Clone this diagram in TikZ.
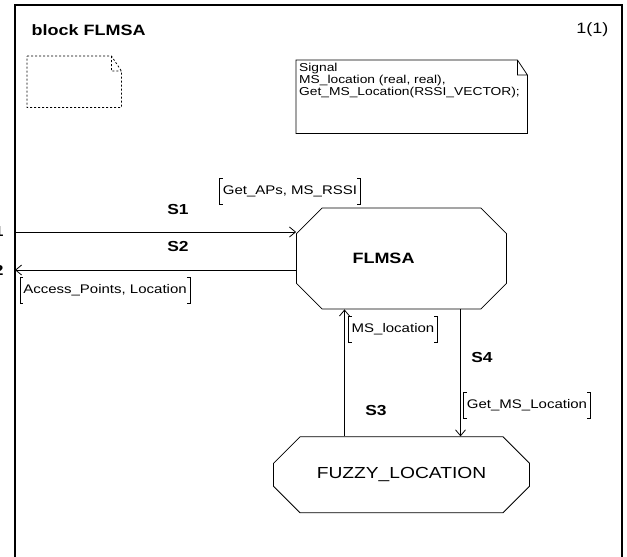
\documentclass[tikz,border=0pt]{standalone}
\usepackage{fontspec}
\setmainfont{Liberation Sans}[FakeStretch=1.2]
\usetikzlibrary{arrows.meta,positioning,shapes.misc}
\newcommand{\siglist}[3]{%
  \node[siglist] (#1) at (#2) {#3};
  \draw[brk] ([xshift=3pt]#1.north west) -| (#1.south west) -- ++(3pt,0)
    ([xshift=-3pt]#1.north east) -| (#1.south east) -- ++(-3pt,0);}
\newcommand{\dognote}[2]{%
  \draw[#2] (#1.north west) -- ([xshift=-10pt]#1.north east) -- ([yshift=-15pt]#1.north east)
    -- (#1.south east) -- (#1.south west) -- cycle
    ([xshift=-10pt]#1.north east) -- ([xshift=-10pt,yshift=-15pt]#1.north east) -- ([yshift=-15pt]#1.north east);}
\tikzset{
  frame/.style={line width=1.3pt},
  sig/.style={-{Straight Barb[length=6pt,width=10pt]}, line width=0.8pt},
  brk/.style={line width=0.6pt},
  blockbox/.style={chamfered rectangle, draw, line width=0.8pt,
    font=\fontsize{15}{17}\selectfont\bfseries},
  chan/.style={font=\fontsize{14.5}{16}\selectfont\bfseries},
  siglist/.style={font=\fontsize{12.5}{14}\selectfont, inner xsep=3pt, inner ysep=0pt, minimum height=26pt},
  emptynote/.style={inner sep=0pt, anchor=north west},
}
\begin{document}
\begin{tikzpicture}[x=1pt,y=-1pt]
\useasboundingbox (0,0) rectangle (627,557);
% block frame
\draw[frame] (15,557) -- (15,5) -- (622,5) -- (622,557);
\node[chan, anchor=base west, font=\fontsize{15}{17}\selectfont\bfseries] (title) at (28,35) {block FLMSA};
\node[anchor=base east, font=\fontsize{15}{17}\selectfont] (page) at (612,33) {1(1)};

% text symbols
\node[emptynote, minimum width=94pt, minimum height=51pt] (textarea) at (27,56) {};
\dognote{textarea}{line width=0.8pt, dash pattern=on 2pt off 2pt}
\node[emptynote, minimum width=231pt, minimum height=73pt] (sigs) at (296,60) {};
\dognote{sigs}{line width=0.8pt}
\node[align=left, inner sep=0pt, font=\fontsize{11.5}{12}\selectfont,
  below right=3pt and 3pt of sigs.north west] (sigtext)
  {Signal\\MS\_location (real, real),\\Get\_MS\_Location(RSSI\_VECTOR);};

% blocks
\node[blockbox, chamfered rectangle xsep=17pt, chamfered rectangle ysep=17pt,
  minimum width=210pt, minimum height=101pt] (flmsa) at (401.5,258.5) {FLMSA\hspace*{36pt}};
\node[blockbox, chamfered rectangle xsep=20pt, chamfered rectangle ysep=16pt,
  minimum width=256pt, minimum height=76pt, font=\fontsize{16}{18}\selectfont]
  (fuzzy) [below=127pt of flmsa] {FUZZY\_LOCATION};

% channels
\coordinate (env1) at (15,232);
\coordinate (env2) at (15,270);
\node[chan, anchor=east] (gate1) at (7,232) {1};
\node[chan, anchor=east] (gate2) at (7,270) {2};
\draw[sig] (env1) -- (env1 -| flmsa.west);
\draw[sig] (env2 -| flmsa.west) -- (env2);
\draw[sig] ([xshift=-57pt]fuzzy.north) -- ([xshift=-57pt]fuzzy.north |- flmsa.south);
\draw[sig] ([xshift=59pt]fuzzy.north |- flmsa.south) -- ([xshift=59pt]fuzzy.north);

\node[chan] (s1) at (178,209.5) {S1};
\node[chan] (s2) at (178,247) {S2};
\node[chan] (s3) at (376,411) {S3};
\node[chan] (s4) at (482,358) {S4};

\siglist{l1}{290,191.5}{Get\_APs, MS\_RSSI}
\siglist{l2}{105,290}{Access\_Points, Location}
\siglist{l3}{393,329}{MS\_location}
\siglist{l4}{527,405.5}{Get\_MS\_Location}
\end{tikzpicture}
\end{document}
